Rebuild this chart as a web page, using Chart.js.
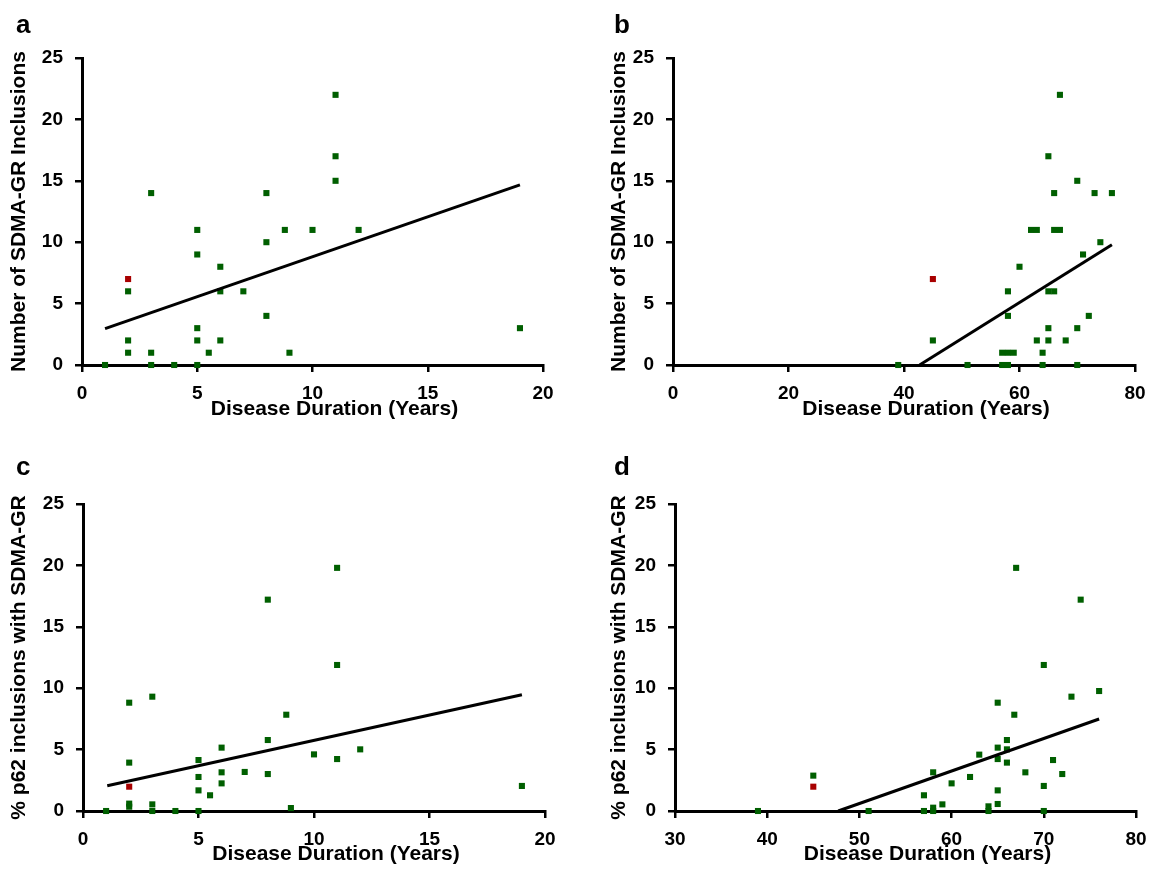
<!DOCTYPE html>
<html>
<head>
<meta charset="utf-8">
<script src="https://cdn.jsdelivr.net/npm/chart.js@4"></script>
<style>
  body { margin: 0; background: #fff; overflow: hidden; }
  #wrap { position: relative; width: 1151px; height: 885px; overflow: hidden; font-family: "Liberation Sans", Arial, sans-serif; }
  .panel { position: absolute; }
  .letter { position: absolute; font-weight: bold; font-size: 26px; color: #000; line-height: 1; }
</style>
</head>
<body>
<div id="wrap">
  <canvas id="chart-a" class="panel" width="575" height="442" style="left:0;top:0"></canvas>
  <canvas id="chart-b" class="panel" width="582" height="442" style="left:575px;top:0"></canvas>
  <canvas id="chart-c" class="panel" width="575" height="443" style="left:0;top:442px"></canvas>
  <canvas id="chart-d" class="panel" width="582" height="443" style="left:575px;top:442px"></canvas>
  <div class="letter" style="left:16px;top:11px">a</div>
  <div class="letter" style="left:614px;top:11px">b</div>
  <div class="letter" style="left:16px;top:453px">c</div>
  <div class="letter" style="left:614px;top:453px">d</div>
</div>
<script>
// Panel a: inclusions vs disease duration
var aX = [1, 2, 2, 2, 3, 3, 3, 4, 5, 5, 5, 5, 5, 5.5, 6, 6, 6, 7, 8, 8, 8, 8.8, 9, 10, 11, 11, 11, 12, 19];
var aY = [0, 6, 2, 1, 14, 1, 0, 0, 11, 9, 3, 2, 0, 1, 8, 6, 2, 6, 14, 10, 4, 11, 1, 11, 22, 17, 15, 11, 3];
var aRedX = [2];
var aRedY = [7];
var aFitX = [1, 19];
var aFitY = [2.96, 14.67];

// Panel b: inclusions vs age at death
var bX = [39, 45, 51, 57, 58, 59, 57, 58, 58, 58, 60, 62, 63, 63, 64, 64, 65, 65, 65, 66, 65, 66, 66, 67, 67, 68, 70, 70, 70, 71, 72, 73, 74, 76];
var bY = [0, 2, 0, 1, 1, 1, 0, 0, 4, 6, 8, 11, 11, 2, 1, 0, 2, 3, 6, 6, 17, 14, 11, 11, 22, 2, 15, 3, 0, 9, 4, 14, 10, 14];
var bRedX = [45];
var bRedY = [7];
var bFitX = [42.7, 76];
var bFitY = [0, 9.8];

// Panel c: % p62 inclusions vs disease duration
var cX = [1, 2, 2, 2, 2, 3, 3, 3, 4, 5, 5, 5, 5, 5.5, 6, 6, 6, 7, 8, 8, 8, 8.8, 9, 10, 11, 11, 11, 12, 19];
var cY = [0, 8.82, 3.94, 0.6, 0.35, 9.31, 0.54, 0, 0, 4.15, 2.77, 1.68, 0, 1.28, 5.16, 3.15, 2.25, 3.18, 17.21, 5.78, 3.01, 7.84, 0.24, 4.61, 19.8, 11.89, 4.23, 5.02, 2.04];
var cRedX = [2];
var cRedY = [1.98];
var cFitX = [1.05, 19];
var cFitY = [2.06, 9.47];

// Panel d: % p62 inclusions vs age at death
var dX = [39, 45, 51, 57, 57, 58, 58, 58, 59, 60, 62, 63, 64, 64, 65, 65, 65, 65, 65, 66, 66, 66, 66.8, 67, 68, 70, 70, 70, 71, 72, 73, 74, 76];
var dY = [0, 2.88, 0, 1.28, 0, 3.15, 0.27, 0, 0.54, 2.25, 2.77, 4.59, 0.38, 0, 8.82, 5.16, 4.23, 1.68, 0.57, 5.78, 5.02, 3.94, 7.84, 19.8, 3.15, 11.89, 2.04, 0, 4.15, 3.01, 9.31, 17.21, 9.77];
var dRedX = [45];
var dRedY = [1.98];
var dFitX = [47.7, 76];
var dFitY = [0, 7.49];

var yTicks = [0, 5, 10, 15, 20, 25];
var xTitle = 'Disease Duration (Years)';
var yTitleTop = 'Number of SDMA-GR Inclusions';
var yTitleBottom = '% p62 inclusions with SDMA-GR';

var FONT = '"Liberation Sans", Arial, sans-serif';
var GREEN = '#005f00';
var RED = '#a80000';

function toPoints(xs, ys) {
  return xs.map(function (x, i) {
    return { x: x, y: ys[i] };
  });
}

// x title sits a little right of the plot centre in the original
var xTitlePlugin = {
  id: 'xTitleShifted',
  afterDraw: function (chart, args, opts) {
    var area = chart.chartArea;
    var c = chart.ctx;
    c.save();
    c.font = 'bold 21px ' + FONT;
    c.fillStyle = '#000';
    c.textAlign = 'center';
    c.textBaseline = 'middle';
    c.fillText(opts.text, (area.left + area.right) / 2 + opts.shift, opts.y);
    c.restore();
  }
};

function makePanel(id, xs, ys, redXs, redYs, fitXs, fitYs, xRange, yTitle, box) {
  var ctx = document.getElementById(id).getContext('2d');
  var axisLine = { color: '#000', width: 3 };
  var tickGrid = { drawOnChartArea: false, drawTicks: true, tickLength: 7, color: '#000', lineWidth: 2.5 };
  var tickFont = { family: FONT, size: 19, weight: 'bold' };
  var titleFont = { family: FONT, size: 21, weight: 'bold' };

  return new Chart(ctx, {
    type: 'scatter',
    plugins: [xTitlePlugin],
    data: {
      datasets: [
        {
          type: 'line',
          data: toPoints(fitXs, fitYs),
          borderColor: '#000',
          borderWidth: 3,
          pointRadius: 0,
          fill: false,
          clip: false
        },
        {
          data: toPoints(xs, ys),
          pointStyle: 'rect',
          pointRadius: 4.3,
          backgroundColor: GREEN,
          borderWidth: 0,
          clip: false
        },
        {
          data: toPoints(redXs, redYs),
          pointStyle: 'rect',
          pointRadius: 4.3,
          backgroundColor: RED,
          borderWidth: 0,
          clip: false
        }
      ]
    },
    options: {
      responsive: false,
      animation: false,
      layout: { padding: { top: box.top, right: box.right, left: 0, bottom: 0 } },
      plugins: {
        legend: { display: false },
        tooltip: { enabled: false },
        xTitleShifted: { text: xTitle, shift: 22, y: box.xTitleY }
      },
      scales: {
        x: {
          type: 'linear',
          min: xRange[0],
          max: xRange[1],
          ticks: { stepSize: xRange[2], color: '#000', font: tickFont, padding: 10, maxRotation: 0 },
          grid: tickGrid,
          border: axisLine,
          afterFit: function (scale) { scale.height = box.xHeight; }
        },
        y: {
          type: 'linear',
          min: yTicks[0],
          max: yTicks[yTicks.length - 1],
          ticks: { stepSize: 5, color: '#000', font: tickFont, padding: 12 },
          grid: tickGrid,
          border: axisLine,
          title: { display: true, text: yTitle, color: '#000', font: titleFont, padding: { top: box.yTitlePad, bottom: 0 } },
          afterFit: function (scale) { scale.width = box.yWidth; }
        }
      }
    }
  });
}

makePanel('chart-a', aX, aY, aRedX, aRedY, aFitX, aFitY, [0, 20, 5], yTitleTop,
  { top: 58, right: 32, yWidth: 82, xHeight: 77, yTitlePad: 7, xTitleY: 409 });
makePanel('chart-b', bX, bY, bRedX, bRedY, bFitX, bFitY, [0, 80, 20], yTitleTop,
  { top: 58, right: 22, yWidth: 98, xHeight: 77, yTitlePad: 32, xTitleY: 409 });
makePanel('chart-c', cX, cY, cRedX, cRedY, cFitX, cFitY, [0, 20, 5], yTitleBottom,
  { top: 62, right: 30, yWidth: 83, xHeight: 74, yTitlePad: 7, xTitleY: 412 });
makePanel('chart-d', dX, dY, dRedX, dRedY, dFitX, dFitY, [30, 80, 10], yTitleBottom,
  { top: 62, right: 21, yWidth: 100, xHeight: 74, yTitlePad: 32, xTitleY: 412 });
</script>
</body>
</html>
